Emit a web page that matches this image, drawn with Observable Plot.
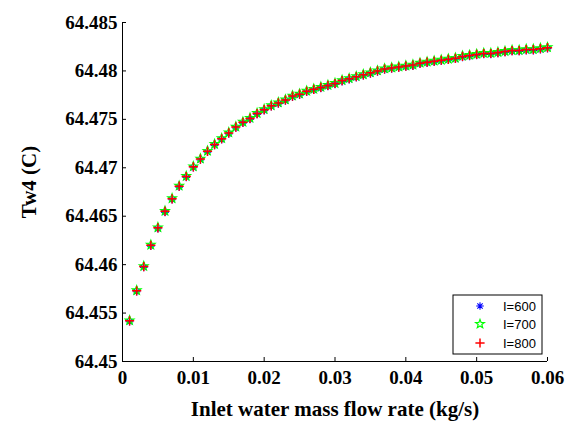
<!DOCTYPE html>
<html><head><meta charset="utf-8">
<script src="https://cdn.jsdelivr.net/npm/d3@7"></script>
<script src="https://cdn.jsdelivr.net/npm/@observablehq/plot@0.6"></script>
<style>body{margin:0;background:#fff}#chart{position:relative;width:569px;height:426px}</style>
</head><body><div id="chart"></div>
<script>
const flowRate = [0.001,0.002,0.003,0.004,0.005,0.006,0.007,0.008,0.009,0.010,
0.011,0.012,0.013,0.014,0.015,0.016,0.017,0.018,0.019,0.020,
0.021,0.022,0.023,0.024,0.025,0.026,0.027,0.028,0.029,0.030,
0.031,0.032,0.033,0.034,0.035,0.036,0.037,0.038,0.039,0.040,
0.041,0.042,0.043,0.044,0.045,0.046,0.047,0.048,0.049,0.050,
0.051,0.052,0.053,0.054,0.055,0.056,0.057,0.058,0.059,0.060];
const tw4_I600 = [64.4541,64.4572,64.4597,64.4619,64.4637,64.4654,64.4667,64.4680,64.4690,64.4700,
64.4708,64.4716,64.4723,64.4729,64.4735,64.4741,64.4746,64.4750,64.4755,64.4759,
64.4763,64.4766,64.4769,64.4773,64.4775,64.4778,64.4780,64.4782,64.4784,64.4786,
64.4789,64.4791,64.4793,64.4795,64.4797,64.4799,64.4801,64.4802,64.4803,64.4804,
64.4805,64.4807,64.4808,64.4809,64.4810,64.4811,64.4812,64.4814,64.4815,64.4816,
64.4817,64.4817,64.4818,64.4819,64.4820,64.4820,64.4821,64.4821,64.4822,64.4823];
const tw4_I700 = [64.45425,64.45735,64.45985,64.46205,64.46385,64.46555,64.46685,64.46815,64.46915,64.47015,
64.47095,64.47175,64.47245,64.47305,64.47365,64.47425,64.47475,64.47515,64.47565,64.47605,
64.47645,64.47675,64.47705,64.47745,64.47765,64.47795,64.47815,64.47835,64.47855,64.47875,
64.47905,64.47925,64.47945,64.47965,64.47985,64.48005,64.48025,64.48035,64.48045,64.48055,
64.48065,64.48085,64.48095,64.48105,64.48115,64.48125,64.48135,64.48155,64.48165,64.48175,
64.48185,64.48185,64.48195,64.48205,64.48215,64.48215,64.48225,64.48225,64.48235,64.48245];
const tw4_I800 = [64.4542,64.4573,64.4598,64.4620,64.4638,64.4655,64.4668,64.4681,64.4691,64.4701,
64.4709,64.4717,64.4724,64.4730,64.4736,64.4742,64.4747,64.4751,64.4756,64.4760,
64.4764,64.4767,64.4770,64.4774,64.4776,64.4779,64.4781,64.4783,64.4785,64.4787,
64.4790,64.4792,64.4794,64.4796,64.4798,64.4800,64.4802,64.4803,64.4804,64.4805,
64.4806,64.4808,64.4809,64.4810,64.4811,64.4812,64.4813,64.4815,64.4816,64.4817,
64.4818,64.4818,64.4819,64.4820,64.4821,64.4821,64.4822,64.4822,64.4823,64.4824];
const seriesNames = ["I=600","I=700","I=800"];
const seriesColors = ["#0000ff","#00ff00","#ff0000"];
const xTicks = [0,0.01,0.02,0.03,0.04,0.05,0.06];
const yTicks = [64.45,64.455,64.46,64.465,64.47,64.475,64.48,64.485];
const xLabel = "Inlet water mass flow rate (kg/s)";
const yLabel = "Tw4 (C)";

const W = 569, H = 426, ML = 122, MR = 22, MT = 22, MB = 65;
const FW = W - ML - MR, FH = H - MT - MB;
const serif = "'Liberation Serif','Times New Roman',Times,serif";

const rad = s => Math.sqrt(s / Math.PI);
const plusSym = {draw(c, s){const r = rad(s); c.moveTo(-r,0); c.lineTo(r,0); c.moveTo(0,-r); c.lineTo(0,r);}};
const asteriskSym = {draw(c, s){const r = rad(s), d = r*0.707; c.moveTo(-r,0); c.lineTo(r,0); c.moveTo(0,-r); c.lineTo(0,r); c.moveTo(-d,-d); c.lineTo(d,d); c.moveTo(-d,d); c.lineTo(d,-d);}};
const pentagramSym = {draw(c, s){const r = rad(s), ri = r*0.42; for (let i = 0; i < 10; i++){const a = -Math.PI/2 + i*Math.PI/5, rr = i%2 ? ri : r; const px = rr*Math.cos(a), py = rr*Math.sin(a); if (i===0) c.moveTo(px,py); else c.lineTo(px,py);} c.closePath();}};
const symbols = [asteriskSym, pentagramSym, plusSym];
const sizes = [3.8, 4.6, 4.6];
const widths = [1.1, 1.2, 1.5];
const seriesVals = [tw4_I600, tw4_I700, tw4_I800];

const fmt = d => String(+d.toFixed(3));

const marks = [
  Plot.ruleX([0], {stroke: "#000", strokeWidth: 1}),
  Plot.ruleY([64.45], {stroke: "#000", strokeWidth: 1}),
  Plot.tickY(yTicks, {y: d => d, stroke: "#000", insetRight: FW - 4}),
  Plot.tickX(xTicks, {x: d => d, stroke: "#000", insetTop: FH - 4}),
  Plot.axisY(yTicks, {tickSize: 0, tickPadding: 5, tickFormat: fmt, fontSize: 19, fontWeight: "bold", fontFamily: serif, fill: "#000", label: null}),
  Plot.axisX(xTicks, {tickSize: 0, tickPadding: 9, tickFormat: fmt, fontSize: 19, fontWeight: "bold", fontFamily: serif, fill: "#000", label: null}),
  Plot.text([xLabel], {text: d => d, frameAnchor: "bottom", lineAnchor: "middle", textAnchor: "middle", dy: 48, fontSize: 21, fontWeight: "bold", fontFamily: serif, fill: "#000"}),
  Plot.text([yLabel], {text: d => d, frameAnchor: "left", lineAnchor: "middle", textAnchor: "middle", dx: -93, dy: -10, rotate: -90, fontSize: 21, fontWeight: "bold", fontFamily: serif, fill: "#000"})
];
seriesVals.forEach((vals, k) => {
  const rows = flowRate.map((x, i) => ({x, y: vals[i]}));
  marks.push(Plot.dot(rows, {x: "x", y: "y", symbol: symbols[k], r: sizes[k], fill: "none", stroke: seriesColors[k], strokeWidth: widths[k]}));
});

const chart = Plot.plot({
  width: W, height: H,
  marginLeft: ML, marginRight: MR, marginTop: MT, marginBottom: MB,
  x: {domain: [0, 0.06]},
  y: {domain: [64.45, 64.485]},
  style: {background: "#fff", color: "#000"},
  marks
});
document.getElementById("chart").appendChild(chart);

// legend box
const svg = d3.select(chart);
const lg = svg.append("g");
lg.append("rect").attr("x", 453).attr("y", 295).attr("width", 89).attr("height", 59)
  .attr("fill", "#fff").attr("stroke", "#000").attr("stroke-width", 1);
const rowsY = [306, 324, 343];
seriesNames.forEach((name, k) => {
  const p = d3.path();
  symbols[k].draw(p, Math.PI * sizes[k] * sizes[k]);
  lg.append("path").attr("d", p.toString()).attr("transform", `translate(480,${rowsY[k]})`)
    .attr("fill", "none").attr("stroke", seriesColors[k]).attr("stroke-width", widths[k]);
  lg.append("text").attr("x", 503).attr("y", rowsY[k]).attr("dy", "0.35em")
    .style("font-family", "'Liberation Sans',Arial,sans-serif").style("font-size", "13px")
    .attr("text-anchor", "start").attr("fill", "#000").text(name);
});
</script></body></html>
